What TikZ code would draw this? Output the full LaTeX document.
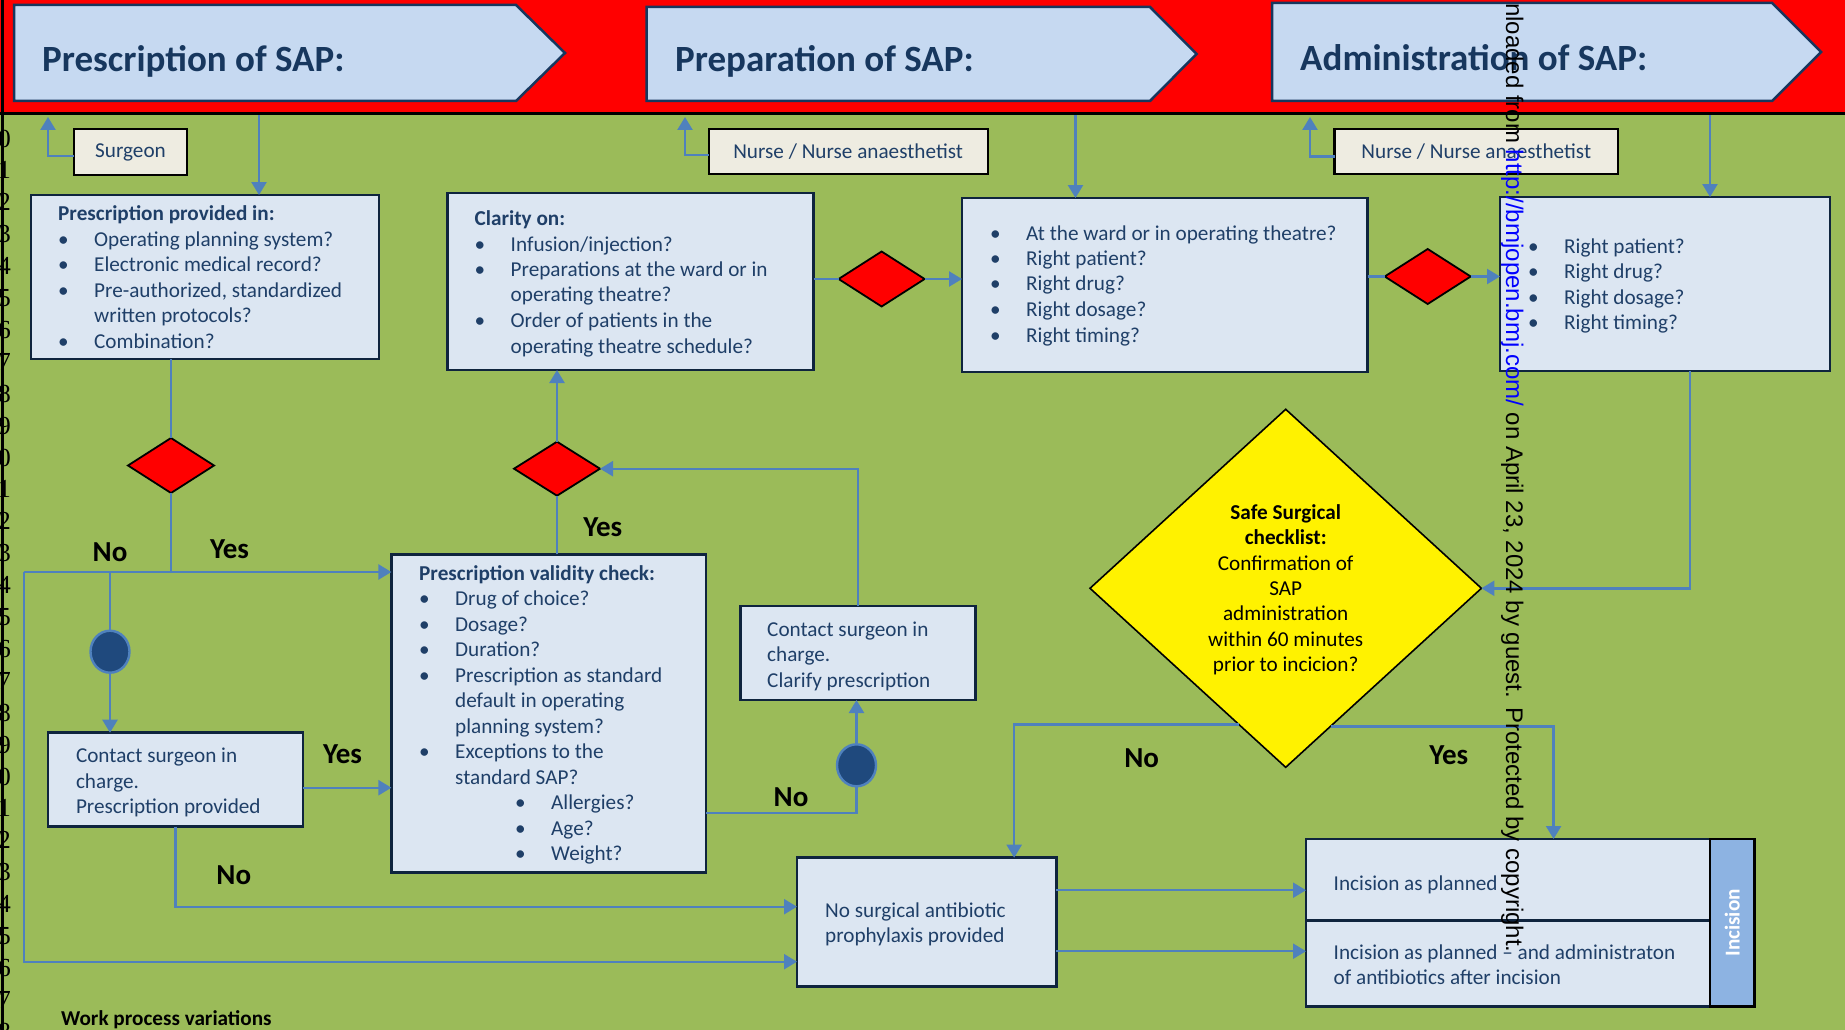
\documentclass[tikz,border=0pt]{standalone}
\usepackage{fontspec}
\setmainfont{Carlito}
\newfontfamily\wmfont{Liberation Sans}
\newfontfamily\numfont{Liberation Serif}
\usetikzlibrary{arrows.meta,shapes.geometric}

\definecolor{bandred}{HTML}{FF0000}
\definecolor{bg}{HTML}{9BBB59}
\definecolor{hdrfill}{HTML}{C6D9F1}
\definecolor{hdrline}{HTML}{17375E}
\definecolor{hdrtext}{HTML}{17375E}
\definecolor{boxfill}{HTML}{DCE6F2}
\definecolor{boxline}{HTML}{0F243E}
\definecolor{txtblue}{HTML}{1F3F68}
\definecolor{connblue}{HTML}{4F81BD}
\definecolor{cream}{HTML}{EEECE1}
\definecolor{dotfill}{HTML}{1F497D}
\definecolor{incbar}{HTML}{8DB3E2}

\newcommand\bodyfont{\fontsize{21.2pt}{25.5pt}\selectfont}
\newcommand\bitem[1]{\makebox[36pt][l]{\textbullet}#1}
\newcommand\bcont[1]{\hspace*{36pt}#1}
\newcommand\bsubitem[1]{\hspace*{96pt}\makebox[36pt][l]{\textbullet}#1}

\tikzset{
  box/.style={draw=boxline, line width=2.6pt, fill=boxfill, inner sep=0pt, outer sep=0pt, anchor=north west},
  role/.style={draw=black, line width=2.2pt, fill=cream, inner sep=0pt, outer sep=0pt, anchor=north west, text=txtblue, font=\bodyfont},
  txt/.style={anchor=base west, inner sep=0pt, text=txtblue, font=\bodyfont},
  conn/.style={draw=connblue, line width=2.4pt},
  arr/.style={conn, -{Triangle[length=13pt,width=15pt]}},
  reddia/.style={diamond, draw=black, line width=1.8pt, fill=bandred, inner sep=0pt, outer sep=0pt, minimum width=86pt, minimum height=55pt},
  dot/.style={ellipse, draw=connblue, line width=2.4pt, fill=dotfill, inner sep=0pt, outer sep=0pt, minimum width=39pt, minimum height=42pt},
  hdr/.style={draw=hdrline, line width=2.5pt, fill=hdrfill, line join=miter},
  hdrtxt/.style={anchor=base west, inner sep=0pt, text=hdrtext, font=\fontsize{37pt}{44pt}\selectfont\bfseries},
  lbl/.style={inner sep=0pt, text=black, font=\fontsize{29pt}{34pt}\selectfont\bfseries},
  digit/.style={inner sep=0pt, text=black, font=\numfont\fontsize{26pt}{26pt}\selectfont},
}

\begin{document}
\begin{tikzpicture}[x=1pt,y=-1pt]
\useasboundingbox (0,0) rectangle (1845,1030);
\clip (0,0) rectangle (1845,1030);

% background bands
\fill[bg] (0,113) rectangle (1845,1030);
\fill[bandred] (0,0) rectangle (1845,113);
\draw[black, line width=2.5pt] (0,113.5) -- (1845,113.5);
\draw[black, line width=2.5pt] (2.5,0) -- (2.5,1030);

% phase headers
\draw[hdr] (14,5) -- (516,5) -- (565,53) -- (516,101) -- (14,101) -- cycle;
\node[hdrtxt] (h1) at (42,71.7) {Prescription of SAP:};
\draw[hdr] (646.5,7) -- (1150,7) -- (1196.5,54) -- (1150,101) -- (646.5,101) -- cycle;
\node[hdrtxt] (h2) at (675,71.7) {Preparation of SAP:};
\draw[hdr] (1272,3) -- (1772,3) -- (1821,52) -- (1772,101) -- (1272,101) -- cycle;
\node[hdrtxt] (h3) at (1300,70.7) {Administration of SAP:};

% responsible roles
\node[role, minimum width=113pt, minimum height=46pt] (surgeon) at (74,129) {Surgeon};
\node[role, minimum width=279pt, minimum height=45pt] (nurse1) at (708.6,129) {Nurse / Nurse anaesthetist};
\node[role, minimum width=283.5pt, minimum height=45pt] (nurse2) at (1334.5,129) {Nurse / Nurse anaesthetist};

% process boxes
\node[box, minimum width=348pt, minimum height=164pt] (A) at (31,195) {};
\node[txt] (At) at (58,220.5) {\begin{tabular}[t]{@{}l@{}}
\textbf{Prescription provided in:}\\
\bitem{Operating planning system?}\\
\bitem{Electronic medical record?}\\
\bitem{Pre-authorized, standardized}\\
\bcont{written protocols?}\\
\bitem{Combination?}
\end{tabular}};

\node[box, minimum width=366pt, minimum height=177pt] (B) at (447.6,193) {};
\node[txt] (Bt) at (474.5,225.5) {\begin{tabular}[t]{@{}l@{}}
\textbf{Clarity on:}\\
\bitem{Infusion/injection?}\\
\bitem{Preparations at the ward or in}\\
\bcont{operating theatre?}\\
\bitem{Order of patients in the}\\
\bcont{operating theatre schedule?}
\end{tabular}};

\node[box, minimum width=405.5pt, minimum height=174pt] (C) at (962,198) {};
\node[txt] (Ct) at (990,240) {\begin{tabular}[t]{@{}l@{}}
\bitem{At the ward or in operating theatre?}\\
\bitem{Right patient?}\\
\bitem{Right drug?}\\
\bitem{Right dosage?}\\
\bitem{Right timing?}
\end{tabular}};

\node[box, minimum width=330pt, minimum height=174pt] (D) at (1500,197) {};
\node[txt] (Dt) at (1528,253) {\begin{tabular}[t]{@{}l@{}}
\bitem{Right patient?}\\
\bitem{Right drug?}\\
\bitem{Right dosage?}\\
\bitem{Right timing?}
\end{tabular}};

\node[box, minimum width=314.6pt, minimum height=318pt] (E) at (391.4,554.3) {};
\node[txt] (Et) at (419,580) {\begin{tabular}[t]{@{}l@{}}
\textbf{Prescription validity check:}\\
\bitem{Drug of choice?}\\
\bitem{Dosage?}\\
\bitem{Duration?}\\
\bitem{Prescription as standard}\\
\bcont{default in operating}\\
\bcont{planning system?}\\
\bitem{Exceptions to the}\\
\bcont{standard SAP?}\\
\bsubitem{Allergies?}\\
\bsubitem{Age?}\\
\bsubitem{Weight?}
\end{tabular}};

\node[box, minimum width=255pt, minimum height=94pt] (G) at (48,732.7) {};
\node[txt] (Gt) at (75.8,762.5) {\begin{tabular}[t]{@{}l@{}}
Contact surgeon in\\ charge.\\ Prescription provided
\end{tabular}};

\node[box, minimum width=235pt, minimum height=94pt] (H) at (740.4,606) {};
\node[txt] (Ht) at (767,636) {\begin{tabular}[t]{@{}l@{}}
Contact surgeon in\\ charge.\\ Clarify prescription
\end{tabular}};

\node[box, minimum width=259.3pt, minimum height=129pt] (F) at (797,857.7) {};
\node[txt] (Ft) at (825,917) {\begin{tabular}[t]{@{}l@{}}
No surgical antibiotic\\ prophylaxis provided
\end{tabular}};

% incision outcomes
\node[box, minimum width=404pt, minimum height=81.7pt] (inc1) at (1306,839) {};
\node[box, minimum width=404pt, minimum height=86pt] (inc2) at (1306,920.7) {};
\node[txt] (inc1t) at (1333.5,890) {Incision as planned};
\node[txt] (inc2t) at (1333.5,959) {\begin{tabular}[t]{@{}l@{}}
Incision as planned – and administraton\\ of antibiotics after incision
\end{tabular}};
\node[draw=black, line width=2.6pt, fill=incbar, anchor=north west, inner sep=0pt, outer sep=0pt,
      minimum width=44.7pt, minimum height=167.7pt] (bar) at (1710,839) {};
\node[rotate=90, inner sep=0pt, text=white, font=\bodyfont\bfseries] (bart) at (bar.center) {Incision};

% decisions
\node[reddia] (dm1) at (881.6,279) {};
\node[reddia] (dm2) at (1427.7,276.5) {};
\node[reddia] (dm3) at (171,465.5) {};
\node[reddia, minimum height=54pt] (dm4) at (557,468.7) {};
\node[diamond, draw=black, line width=1.6pt, fill=yellow, inner sep=0pt, outer sep=0pt,
      minimum width=391.4pt, minimum height=358pt] (yd) at (1285.7,588.3) {};
\node[anchor=base, inner sep=0pt, text=black, font=\fontsize{21.2pt}{25.3pt}\selectfont] (ydt) at (1285.7,519.5)
  {\begin{tabular}[t]{@{}c@{}}
  \textbf{Safe Surgical}\\ \textbf{checklist:}\\ Confirmation of\\ SAP\\ administration\\ within 60 minutes\\ prior to incicion?
  \end{tabular}};

% connection points
\node[dot] (c1) at (110,651.7) {};
\node[dot] (c2) at (856.5,765.3) {};

% connectors
\coordinate (sUp) at (48,117);
\coordinate (n1Up) at (685,117);
\coordinate (n2Up) at (1310,117);
\coordinate (d1) at (259,115);
\coordinate (d2) at (1075.5,115);
\coordinate (d3) at (1710,115);
\coordinate (jL) at (24,572);

\draw[arr] ([yshift=-4pt]surgeon.west) -| (sUp);
\draw[arr] ([yshift=-3.5pt]nurse1.west) -| (n1Up);
\draw[arr] ([yshift=-5pt]nurse2.west) -| (n2Up);
\draw[arr] (d1) -- (d1 |- A.north);
\draw[arr] (d2) -- (d2 |- C.north);
\draw[arr] (d3) -- (d3 |- D.north);

\draw[conn] (dm1.west -| B.east) -- (dm1.west);
\draw[arr] (dm1.east) -- (dm1.east -| C.west);
\draw[conn] (dm2.west -| C.east) -- (dm2.west);
\draw[arr] (dm2.east) -- (dm2.east -| D.west);

\draw[conn] (dm3.north |- A.south) -- (dm3.north);
\draw[conn] (dm3.south) -- (dm3.south |- jL);
\draw[arr] (jL) -- (jL -| E.west);
\draw[arr] (jL) |- ([yshift=-39.5pt]F.west);
\draw[conn] (c1.north |- jL) -- (c1.north);
\draw[arr] (c1.south) -- (c1.south |- G.north);
\draw[arr] ([yshift=-8pt]G.east) -- ([yshift=-8pt]G.east -| E.west);
\draw[arr] (G.south) |- ([yshift=15.5pt]F.west);

\draw[conn] (dm4.south |- E.north) -- (dm4.south);
\draw[arr] (dm4.north) -- (dm4.north |- B.south);
\draw[arr] (H.north) |- (dm4.east);
\draw[conn] ([yshift=-99.7pt]E.east) -| (c2.south);
\draw[arr] (c2.north) -- (c2.north |- H.south);

\draw[arr] ([xshift=25pt]D.south) |- (yd.east);
\draw[arr] (yd.251.3) -| ([xshift=87.5pt]F.north);
\draw[arr] (yd.288.7) -| ([xshift=45.6pt]inc1.north);
\draw[arr] ([yshift=32pt]F.east) -- ([yshift=32pt]F.east -| inc1.west);
\draw[arr] ([yshift=-29pt]F.east) -- ([yshift=-29pt]F.east -| inc2.west);

% branch labels
\node[lbl] (l1) at (110,552) {No};
\node[lbl] (l2) at (229.5,549) {Yes};
\node[lbl] (l3) at (602.7,526.7) {Yes};
\node[lbl] (l4) at (342.6,754) {Yes};
\node[lbl] (l5) at (233.8,875) {No};
\node[lbl] (l6) at (791,796.7) {No};
\node[lbl] (l7) at (1141.6,757.7) {No};
\node[lbl] (l8) at (1448.8,755) {Yes};

\node[anchor=base west, inner sep=0pt, text=black, font=\bodyfont\bfseries] (wpv) at (61,1025) {Work process variations};

% row numbers along the left edge
\foreach \k in {0,...,28}{
  \pgfmathtruncatemacro\dg{mod(\k,10)}
  \node[digit] (row\k) at (4.5,{138.5+31.9*\k}) {\dg};
}

% vertical download notice
\node[rotate=-90, anchor=base west, inner sep=0pt, text=black, font=\wmfont\fontsize{24pt}{24pt}\selectfont] (wm) at (1506,3)
  {nloaded from \textcolor{blue}{http://bmjopen.bmj.com/} on April 23, 2024 by guest. Protected by copyright.};
\end{tikzpicture}
\end{document}
